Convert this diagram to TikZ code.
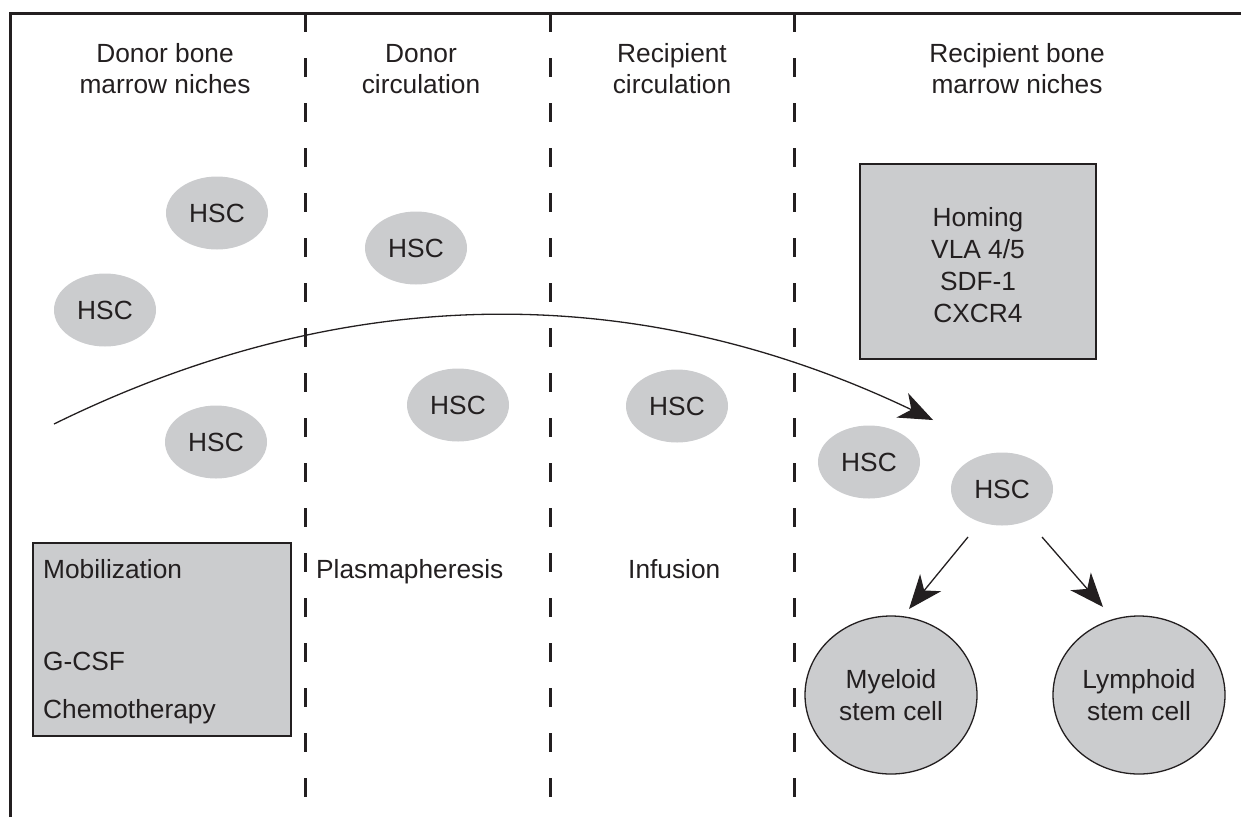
\documentclass[tikz,border=0pt]{standalone}
\usepackage{fontspec}
\setmainfont{Liberation Sans}
\usetikzlibrary{shapes.geometric,arrows.meta}
\definecolor{cellgray}{HTML}{CBCCCE}
\definecolor{ink}{HTML}{231F20}
\begin{document}
\begin{tikzpicture}[x=1pt,y=-1pt,
  txt/.style={font=\fontsize{26.3}{31}\selectfont, text=ink, inner sep=0pt, align=center},
  ltxt/.style={font=\fontsize{26.3}{31}\selectfont, text=ink, inner sep=0pt},
  hsc/.style={ellipse, fill=cellgray, minimum width=102pt, minimum height=73pt, inner sep=0pt, font=\fontsize{26.3}{30}\selectfont, text=ink},
  bigcell/.style={ellipse, draw=ink, line width=1.3pt, fill=cellgray, minimum width=172pt, minimum height=158pt, inner sep=0pt, align=center, font=\fontsize{26.3}{32}\selectfont, text=ink},
  infobox/.style={draw=ink, line width=1.3pt, fill=cellgray},
  sep/.style={ink, line width=3pt, dash pattern=on 19pt off 26pt},
  arr/.style={ink, line width=1.3pt, -{Stealth[length=34pt,width=27pt,inset=10pt]}},
]
\useasboundingbox (0,0) rectangle (1241,817);
% frame
\draw[ink, line width=3pt, line join=miter] (10,817) -- (10,13) -- (1241,13);
% separators
\draw[sep] (305,13) -- (305,817);
\draw[sep] (550,13) -- (550,817);
\draw[sep] (794,13) -- (794,817);
% headers
\node[txt] (h1) at (165,69) {Donor bone\\marrow niches};
\node[txt] (h2) at (421,69) {Donor\\circulation};
\node[txt] (h3) at (672,69) {Recipient\\circulation};
\node[txt] (h4) at (1017,69) {Recipient bone\\marrow niches};
% boxes
\draw[infobox] (33,543) rectangle (291,736);
\node[ltxt, anchor=base west] (mob) at (43,578) {Mobilization};
\node[ltxt, anchor=base west] (gcsf) at (43,670) {G-CSF};
\node[ltxt, anchor=base west] (chemo) at (43,718) {Chemotherapy};
\draw[infobox] (860,164) rectangle (1096,359);
\node[font=\fontsize{26.3}{32}\selectfont, text=ink, inner sep=0pt, align=center] (homing) at (978,265) {Homing\\VLA 4/5\\SDF-1\\CXCR4};
\node[ltxt, anchor=base west] (plasma) at (316,578) {Plasmapheresis};
\node[ltxt, anchor=base west] (inf) at (628,578) {Infusion};
% cells
\node[hsc] (c1) at (217,213) {HSC};
\node[hsc] (c2) at (105,310) {HSC};
\node[hsc] (c3) at (216,442) {HSC};
\node[hsc] (c4) at (416,248) {HSC};
\node[hsc] (c5) at (458,405) {HSC};
\node[hsc] (c6) at (677,406) {HSC};
\node[hsc] (c7) at (869,462) {HSC};
\node[hsc] (c8) at (1002,489) {HSC};
\node[bigcell] (my) at (891,695) {Myeloid\\stem cell};
\node[bigcell] (ly) at (1139,695) {Lymphoid\\stem cell};
% connectors
\coordinate (cs) at (54,424);
\coordinate (ce) at (933,420);
\draw[arr] (cs) .. controls (347,280) and (640,280) .. (ce);
\coordinate (a1s) at (968,537);
\coordinate (a1e) at (909,609);
\coordinate (a2s) at (1042,537);
\coordinate (a2e) at (1103,607);
\draw[arr] (a1s) -- (a1e);
\draw[arr] (a2s) -- (a2e);
\end{tikzpicture}
\end{document}
